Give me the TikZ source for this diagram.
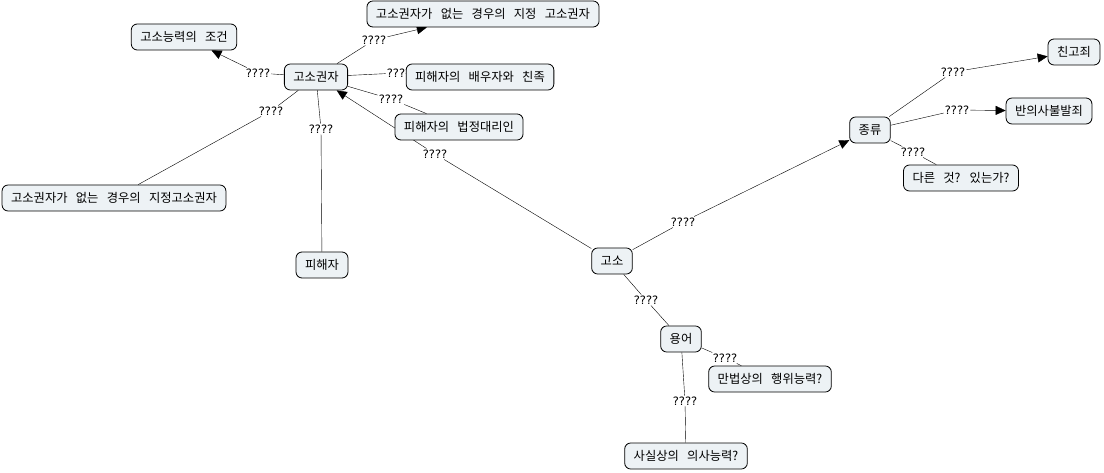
\documentclass[tikz,border=0pt]{standalone}
\usepackage{fontspec}
\setmainfont{Noto Sans CJK KR}[WordSpace={3,0,0}]
\newfontfamily\linkfont{DejaVu Sans}
\usetikzlibrary{arrows.meta,backgrounds}
\definecolor{conceptfill}{RGB}{237,242,245}

\begin{document}
\begin{tikzpicture}[x=1pt,y=1pt,>={Triangle[length=10pt,width=9pt]},
  concept/.style={draw,fill=conceptfill,rounded corners=6pt,line width=0.8pt,
    inner xsep=9pt,minimum height=26pt,font=\fontsize{12.3}{14}\selectfont},
  linkword/.style={inner sep=1pt,font=\linkfont\fontsize{11.5}{13}\selectfont},
  link/.style={line width=0.8pt}]
\useasboundingbox (0,0) rectangle (1104,-473);

% link phrases
\node[linkword] (l1) at (258,-73) {????};
\node[linkword] (l2) at (374,-40) {????};
\node[linkword] (l3) at (399,-73) {????};
\node[linkword] (l4) at (391,-99) {????};
\node[linkword] (l5) at (271,-111) {????};
\node[linkword] (l6) at (321,-129) {????};
\node[linkword] (l7) at (435,-154) {????};
\node[linkword] (l8) at (683,-222) {????};
\node[linkword] (l9) at (646,-300) {????};
\node[linkword] (l10) at (725,-358) {????};
\node[linkword] (l11) at (685,-401) {????};
\node[linkword] (l12) at (953,-72) {????};
\node[linkword] (l13) at (957,-110) {????};
\node[linkword] (l14) at (913,-152) {????};

% concepts
\node[concept] (gosoNeungryeok) at (184,-37) {고소능력의 조건};
\node[concept] (jijeongTop) at (483,-14) {고소권자가 없는 경우의 지정 고소권자};
\node[concept] (gosokwonja) at (316,-77) {고소권자};
\node[concept] (baeuja) at (480,-77) {피해자의 배우자와 친족};
\node[concept] (beopjeong) at (459,-127) {피해자의 법정대리인};
\node[concept] (jijeongLeft) at (114,-198) {고소권자가 없는 경우의 지정고소권자};
\node[concept] (pihaeja) at (322,-265) {피해자};
\node[concept] (goso) at (612,-261) {고소};
\node[concept] (yongeo) at (681,-339) {용어};
\node[concept] (minbeop) at (770,-379) {만법상의 행위능력?};
\node[concept] (sasilsang) at (686,-456) {사실상의 의사능력?};
\node[concept] (jongryu) at (870,-130) {종류};
\node[concept] (chingoje) at (1074,-52) {친고죄};
\node[concept] (baneuisa) at (1049,-111) {반의사불발죄};
\node[concept] (dareun) at (961,-178) {다른 것? 있는가?};

\begin{scope}[on background layer,link]
\draw (gosokwonja) -- (l1);
\draw[->] (l1) -- (gosoNeungryeok);
\draw (gosokwonja) -- (l2);
\draw[->] (l2) -- (jijeongTop);
\draw (gosokwonja) -- (l3);
\draw (l3) -- (baeuja);
\draw (gosokwonja) -- (l4);
\draw (l4) -- (beopjeong);
\draw (gosokwonja) -- (l5);
\draw (l5) -- (jijeongLeft);
\draw (gosokwonja) -- (l6);
\draw (l6) -- (pihaeja);
\draw (goso) -- (l7);
\draw[->] (l7) -- (gosokwonja);
\draw (goso) -- (l8);
\draw[->] (l8) -- (jongryu);
\draw (goso) -- (l9);
\draw (l9) -- (yongeo);
\draw (yongeo) -- (l10);
\draw (l10) -- (minbeop);
\draw (yongeo) -- (l11);
\draw (l11) -- (sasilsang);
\draw (jongryu) -- (l12);
\draw[->] (l12) -- (chingoje);
\draw (jongryu) -- (l13);
\draw[->] (l13) -- (baneuisa);
\draw (jongryu) -- (l14);
\draw (l14) -- (dareun);
\end{scope}
\end{tikzpicture}
\end{document}
